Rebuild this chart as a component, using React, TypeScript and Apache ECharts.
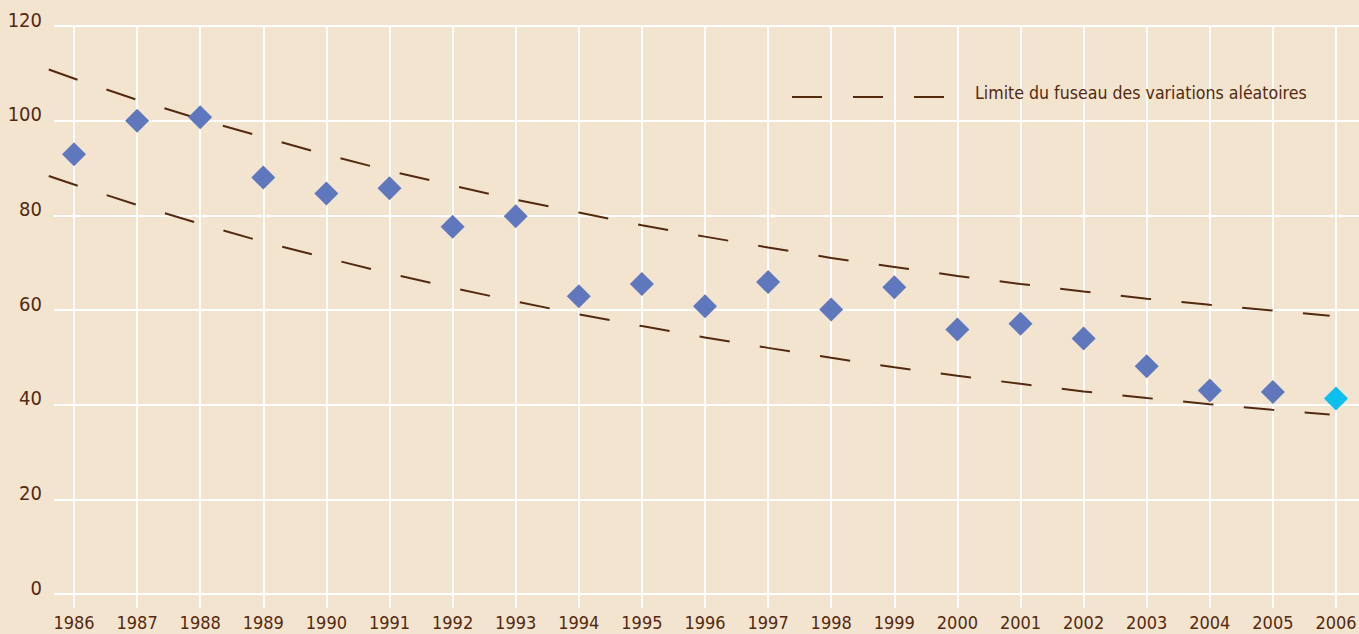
import React, { useEffect, useRef } from "react";
import * as echarts from "echarts";

const years = [1986, 1987, 1988, 1989, 1990, 1991, 1992, 1993, 1994, 1995, 1996, 1997, 1998, 1999, 2000, 2001, 2002, 2003, 2004, 2005, 2006];
const indexValues = [92.9, 100.0, 100.7, 88.0, 84.6, 85.7, 77.6, 79.8, 62.9, 65.5, 60.8, 65.9, 60.1, 64.8, 55.9, 57.1, 54.0, 48.1, 43.0, 42.7, 41.3];

const limitX = [1985.6, 1986, 1987, 1988, 1989, 1990, 1991, 1992, 1993, 1994, 1995, 1996, 1997, 1998, 1999, 2000, 2001, 2002, 2003, 2004, 2005, 2005.9];
const upperLimit = [110.8, 108.9, 104.4, 100.3, 96.5, 92.8, 89.4, 86.3, 83.3, 80.6, 77.9, 75.5, 73.2, 71.0, 69.1, 67.2, 65.5, 63.9, 62.4, 61.1, 59.9, 58.8];
const lowerLimit = [88.3, 86.5, 82.2, 78.2, 74.4, 71.0, 67.7, 64.7, 61.8, 59.1, 56.6, 54.2, 52.0, 49.9, 47.9, 46.1, 44.4, 42.8, 41.4, 40.1, 38.9, 37.9];

const yTicks = { min: 0, max: 120, interval: 20 };
const legendLabel = "Limite du fuseau des variations aléatoires";

const BG = "#f3e4cf";
const BROWN = "#532a10";
const BLUE = "#5f78bd";
const CYAN = "#0bbfee";
const FONT = "'DejaVu Sans Condensed', 'DejaVu Sans', sans-serif";

// main plot: first year at x=74, last at x=1336 (63.1 px per year)
const GRID_LEFT = 74;
const GRID_RIGHT = 23;
const PX_PER_YEAR = (1359 - GRID_LEFT - GRID_RIGHT) / (years[years.length - 1] - years[0]);
// wide plot used for the limit lines (spans the full width so they can start before 1986)
const WIDE_LEFT = 41;
const wideMin = years[0] - (GRID_LEFT - WIDE_LEFT) / PX_PER_YEAR;
const wideMax = years[years.length - 1] + GRID_RIGHT / PX_PER_YEAR;

export default function App() {
  const ref = useRef<HTMLDivElement>(null);

  useEffect(() => {
    document.body.style.margin = "0";
    document.body.style.overflow = "hidden";
    if (!ref.current) return;
    const chart = echarts.init(ref.current, null, { renderer: "svg" });

    const limitStyle = {
      color: BROWN,
      width: 2,
      type: [30.5, 30.5] as number[],
    };

    chart.setOption({
      animation: false,
      backgroundColor: BG,
      grid: [
        { left: GRID_LEFT, right: GRID_RIGHT, top: 26, bottom: 40, outerBoundsMode: "none", containLabel: false },
        { left: WIDE_LEFT, right: 0, top: 26, bottom: 40, outerBoundsMode: "none", containLabel: false },
      ],
      xAxis: [
        {
          type: "value",
          gridIndex: 0,
          min: years[0],
          max: years[years.length - 1],
          interval: 1,
          axisLine: { show: false },
          axisTick: { show: true, length: 14, lineStyle: { color: "#ffffff", width: 2 } },
          splitLine: { show: true, lineStyle: { color: "#ffffff", width: 2 } },
          axisLabel: {
            color: BROWN,
            fontFamily: FONT,
            fontSize: 18,
            margin: 21,
            lineHeight: 14,
            formatter: (v: number) => String(v),
          },
        },
        {
          type: "value",
          gridIndex: 1,
          min: wideMin,
          max: wideMax,
          show: false,
          splitLine: { show: false },
        },
      ],
      yAxis: [
        {
          type: "value",
          gridIndex: 0,
          ...yTicks,
          position: "left",
          axisLine: { show: false },
          axisTick: { show: true, length: 20, lineStyle: { color: "#ffffff", width: 2 } },
          splitLine: { show: true, lineStyle: { color: "#ffffff", width: 2 } },
          axisLabel: {
            color: BROWN,
            fontFamily: FONT,
            fontSize: 20,
            margin: 32,
            verticalAlign: "bottom",
            lineHeight: 13,
          },
        },
        {
          type: "value",
          gridIndex: 0,
          ...yTicks,
          position: "right",
          axisLine: { show: false },
          axisTick: { show: true, length: 23, lineStyle: { color: "#ffffff", width: 2 } },
          splitLine: { show: false },
          axisLabel: { show: false },
        },
        {
          type: "value",
          gridIndex: 1,
          ...yTicks,
          show: false,
          splitLine: { show: false },
        },
      ],
      graphic: [
        { type: "line", z: 100, shape: { x1: 792, y1: 97, x2: 822, y2: 97 }, style: { stroke: BROWN, lineWidth: 2 } },
        { type: "line", z: 100, shape: { x1: 853, y1: 97, x2: 883, y2: 97 }, style: { stroke: BROWN, lineWidth: 2 } },
        { type: "line", z: 100, shape: { x1: 914, y1: 97, x2: 944, y2: 97 }, style: { stroke: BROWN, lineWidth: 2 } },
        {
          type: "text",
          z: 100,
          x: 975,
          y: 93,
          style: {
            text: legendLabel,
            fill: BROWN,
            font: `17.6px ${FONT}`,
            verticalAlign: "middle",
            align: "left",
          },
        },
      ],
      series: [
        {
          name: legendLabel,
          type: "line",
          xAxisIndex: 1,
          yAxisIndex: 2,
          symbol: "none",
          lineStyle: limitStyle,
          data: limitX.map((x, i) => [x, upperLimit[i]]),
          z: 1,
        },
        {
          name: legendLabel,
          type: "line",
          xAxisIndex: 1,
          yAxisIndex: 2,
          symbol: "none",
          lineStyle: limitStyle,
          data: limitX.map((x, i) => [x, lowerLimit[i]]),
          z: 1,
        },
        {
          name: "Indice",
          type: "scatter",
          xAxisIndex: 0,
          yAxisIndex: 0,
          symbol: "diamond",
          symbolSize: 24,
          z: 3,
          data: years.map((y, i) => ({
            value: [y, indexValues[i]],
            itemStyle: { color: i === years.length - 1 ? CYAN : BLUE, opacity: 1 },
          })),
        },
      ],
    });

    return () => chart.dispose();
  }, []);

  return <div ref={ref} style={{ width: 1359, height: 634 }} />;
}
